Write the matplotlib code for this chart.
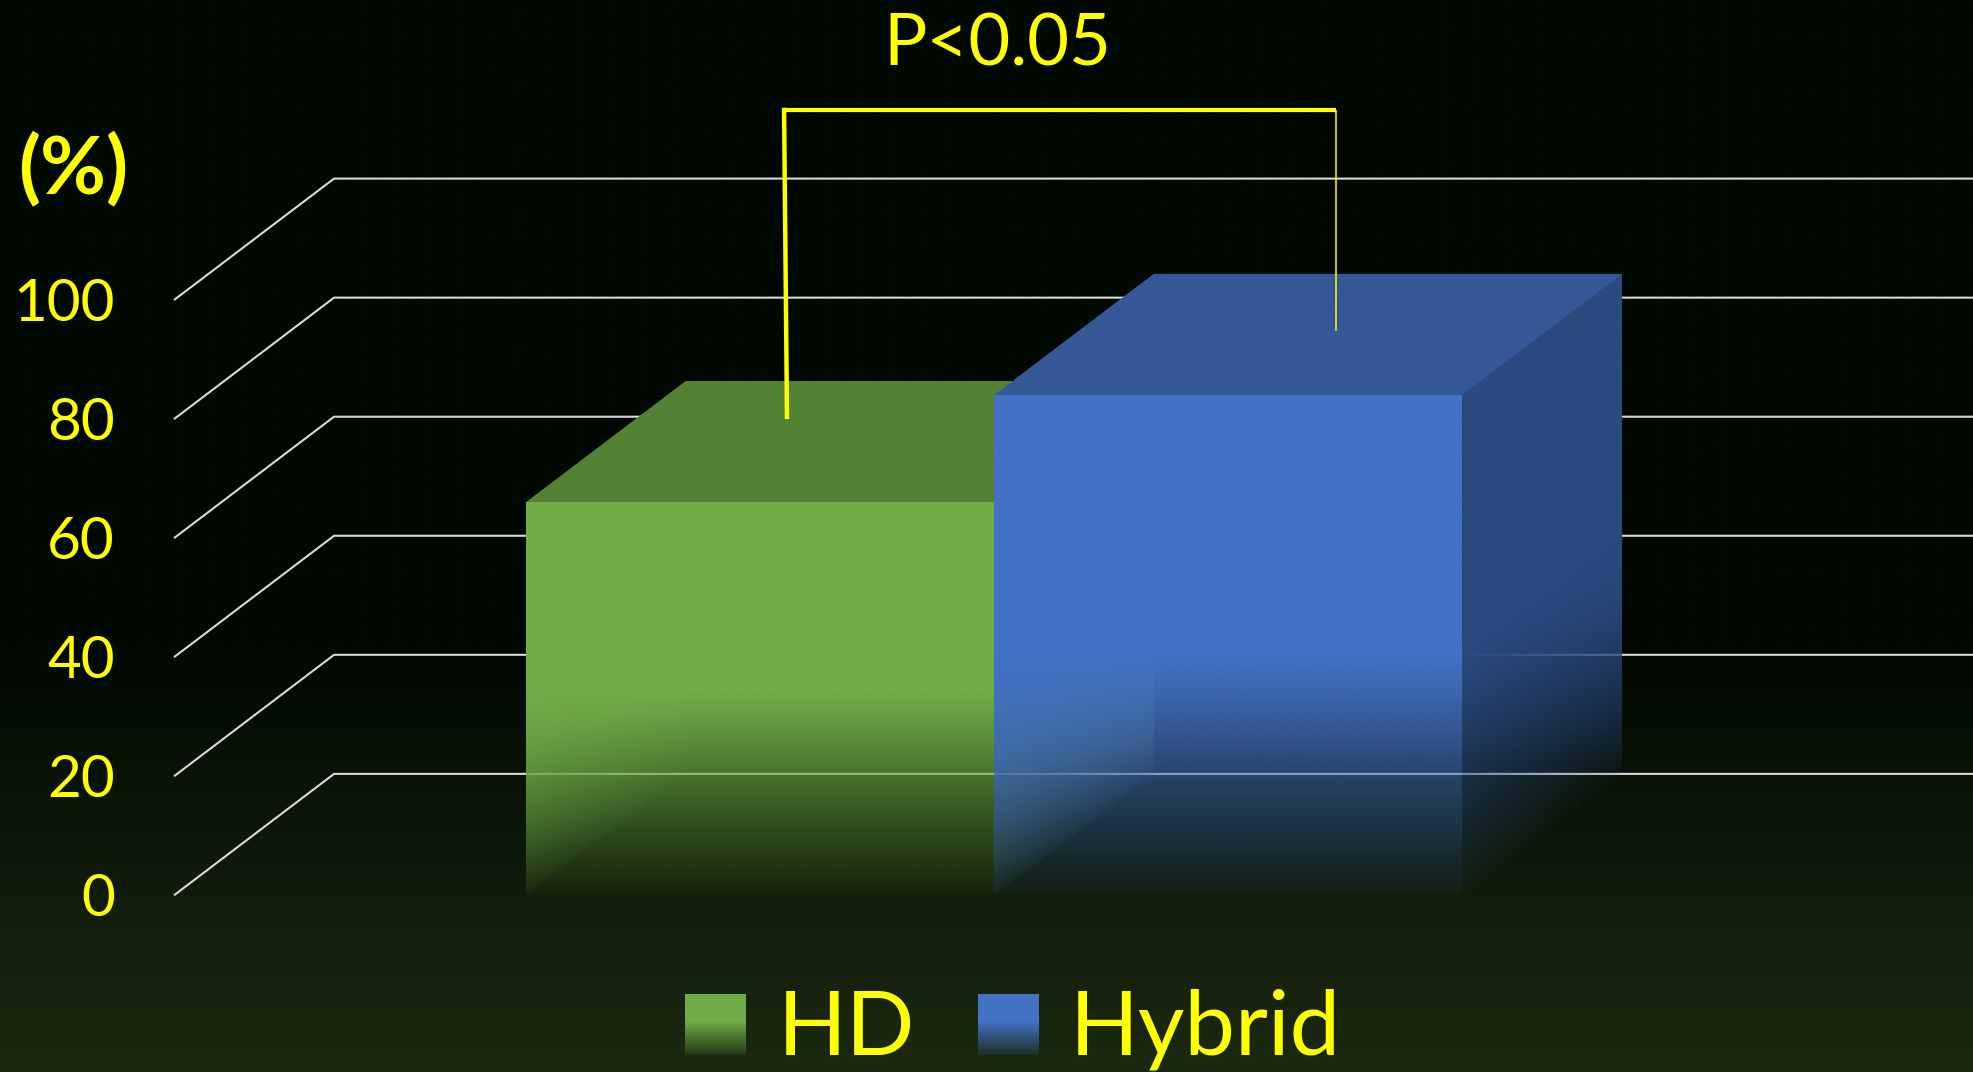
import numpy as np
import matplotlib
matplotlib.use("Agg")
import matplotlib.pyplot as plt
from matplotlib.patches import Polygon
from matplotlib.colors import to_rgb

# ---- data ----
categories = ["HD", "Hybrid"]
values = [66, 84]
ytick_values = [0, 20, 40, 60, 80, 100]
ytick_labels = ["0", "20", "40", "60", "80", "100"]
unit_label = "(%)"
p_label = "P<0.05"

# ---- style ----
front_colors = ["#70AD47", "#4472C4"]
top_colors = ["#548235", "#355897"]
right_colors = ["#4A7530", "#2B4A80"]
left_colors = ["#5C8E3B", "#3A63AA"]
back_colors = ["#41672A", "#284579"]
fade_tops = [34.0, 40.0]
grid_color = "#D9D9D9"
text_color = "#FFFF00"
font = ["Lato", "DejaVu Sans"]

W, H = 1974, 1072
fig = plt.figure(figsize=(W / 100, H / 100), dpi=100)
ax = fig.add_axes([0, 0, 1, 1])
ax.axis("off")

# oblique projection of the 3-D chart box: floor spans x in [-0.5, 0.5],
# depth shifts a point by (DX, DY) in data units
DX, DY = 0.0976, 20.4
BAR_W = 0.2854
XL, XR = -0.6061, 0.5976
YB, YT = -29.68, 150.4

# background: dark, turning olive towards the bottom
rows = np.linspace(0, 1, 400)  # 0 = top of figure
top_c = np.array([1, 9, 2]) / 255
bot_c = np.array([28, 41, 17]) / 255
t = np.clip((rows - 0.60) / 0.40, 0, 1)
bg = top_c[None, :] * (1 - t[:, None]) + bot_c[None, :] * t[:, None]
ax.imshow(bg[:, None, :], extent=(0, 1, 0, 1), transform=ax.transAxes,
          aspect="auto", origin="upper", zorder=0, interpolation="bilinear")

# gridlines: left-wall diagonals and back-wall horizontals
for v in ytick_values:
    ax.plot([-0.5, -0.5 + DX, XR + 0.1], [v, v + DY, v + DY],
            color=grid_color, lw=1.5, solid_capstyle="butt", zorder=1)


def fade(v, top):
    return np.clip((v + 2.0) / (top + 2.0), 0, 1)


def face(poly, color, depth_of, zorder, top, solid=False):
    """Fill a bar face with its colour, fading with the 3-D value height."""
    poly = np.asarray(poly, dtype=float)
    x0, x1 = poly[:, 0].min(), poly[:, 0].max()
    y0, y1 = poly[:, 1].min(), poly[:, 1].max()
    nx, ny = 300, 400
    X, Y = np.meshgrid(np.linspace(x0, x1, nx), np.linspace(y0, y1, ny))
    z = depth_of(X)
    v = Y - DY * z
    img = np.zeros((ny, nx, 4))
    img[..., :3] = to_rgb(color)
    img[..., 3] = 1.0 if solid else fade(v, top)
    im = ax.imshow(img, extent=(x0, x1, y0, y1), origin="lower",
                   aspect="auto", interpolation="bilinear", zorder=zorder)
    clip = Polygon(poly, closed=True, transform=ax.transData)
    im.set_clip_path(clip)


for i, (name, h) in enumerate(zip(categories, values)):
    xa = -BAR_W + i * BAR_W
    xb = xa + BAR_W
    zb = 2 + i * 10
    ft = fade_tops[i]
    # inner faces (seen through the faded lower part)
    face([(xa + DX, DY), (xb + DX, DY), (xb + DX, h + DY), (xa + DX, h + DY)],
         back_colors[i], lambda X: np.ones_like(X), zb, ft)
    face([(xa, 0), (xa + DX, DY), (xa + DX, h + DY), (xa, h)],
         left_colors[i], lambda X, xa=xa: (X - xa) / DX, zb + 1, ft)
    # outer faces
    face([(xb, 0), (xb + DX, DY), (xb + DX, h + DY), (xb, h)],
         right_colors[i], lambda X, xb=xb: (X - xb) / DX, zb + 2, ft)
    face([(xa, h), (xb, h), (xb + DX, h + DY), (xa + DX, h + DY)],
         top_colors[i], lambda X: np.ones_like(X), zb + 3, ft, solid=True)
    face([(xa, 0), (xb, 0), (xb, h), (xa, h)],
         front_colors[i], lambda X: np.zeros_like(X), zb + 4, ft)

# value axis labels
for v, lab in zip(ytick_values, ytick_labels):
    ax.annotate(lab, (-0.5362, v), xytext=(0, -21), textcoords="offset pixels",
                ha="right", va="baseline", color=text_color, fontsize=42,
                family=font, zorder=30)
ax.text(-0.5613, 121.8, unit_label, ha="center", va="center", color=text_color,
        fontsize=58, fontweight="bold", family=font, zorder=30)

# significance bracket
ax.plot([-0.1262, -0.128], [80, 132.3], color=text_color, lw=3.2,
        solid_capstyle="butt", zorder=31)
ax.plot([-0.128, 0.2085], [132, 132], color=text_color, lw=3.0,
        solid_capstyle="butt", zorder=31)
ax.plot([0.2085, 0.2085], [132, 94.8], color=text_color, lw=1.1,
        solid_capstyle="butt", zorder=31)
ax.text(0.002, 139.4, p_label, ha="center", va="baseline", color=text_color,
        fontsize=52, family=font, zorder=31)

# legend with faded swatches
sw_x = [(0.3470, 0.3774), (0.4954, 0.5261)]
sw_y = (0.0159, 0.0723)
txt_x = [0.3941, 0.5420]
sh = np.linspace(0, 1, 200)  # 0 = bottom of swatch
sw_alpha = np.clip(0.12 + 0.88 * sh / 0.55, 0, 1)
for i, name in enumerate(categories):
    img = np.zeros((200, 1, 4))
    img[..., :3] = to_rgb(front_colors[i])
    img[:, 0, 3] = sw_alpha
    ax.imshow(img, extent=(sw_x[i][0], sw_x[i][1], sw_y[0], sw_y[1]),
              transform=ax.transAxes, origin="lower", aspect="auto",
              interpolation="bilinear", zorder=40)
    ax.text(txt_x[i], sw_y[0], name, transform=ax.transAxes, ha="left",
            va="baseline", color=text_color, fontsize=65, family=font, zorder=40)

ax.set_xlim(XL, XR)
ax.set_ylim(YB, YT)
fig.savefig("out.png", dpi=100)
